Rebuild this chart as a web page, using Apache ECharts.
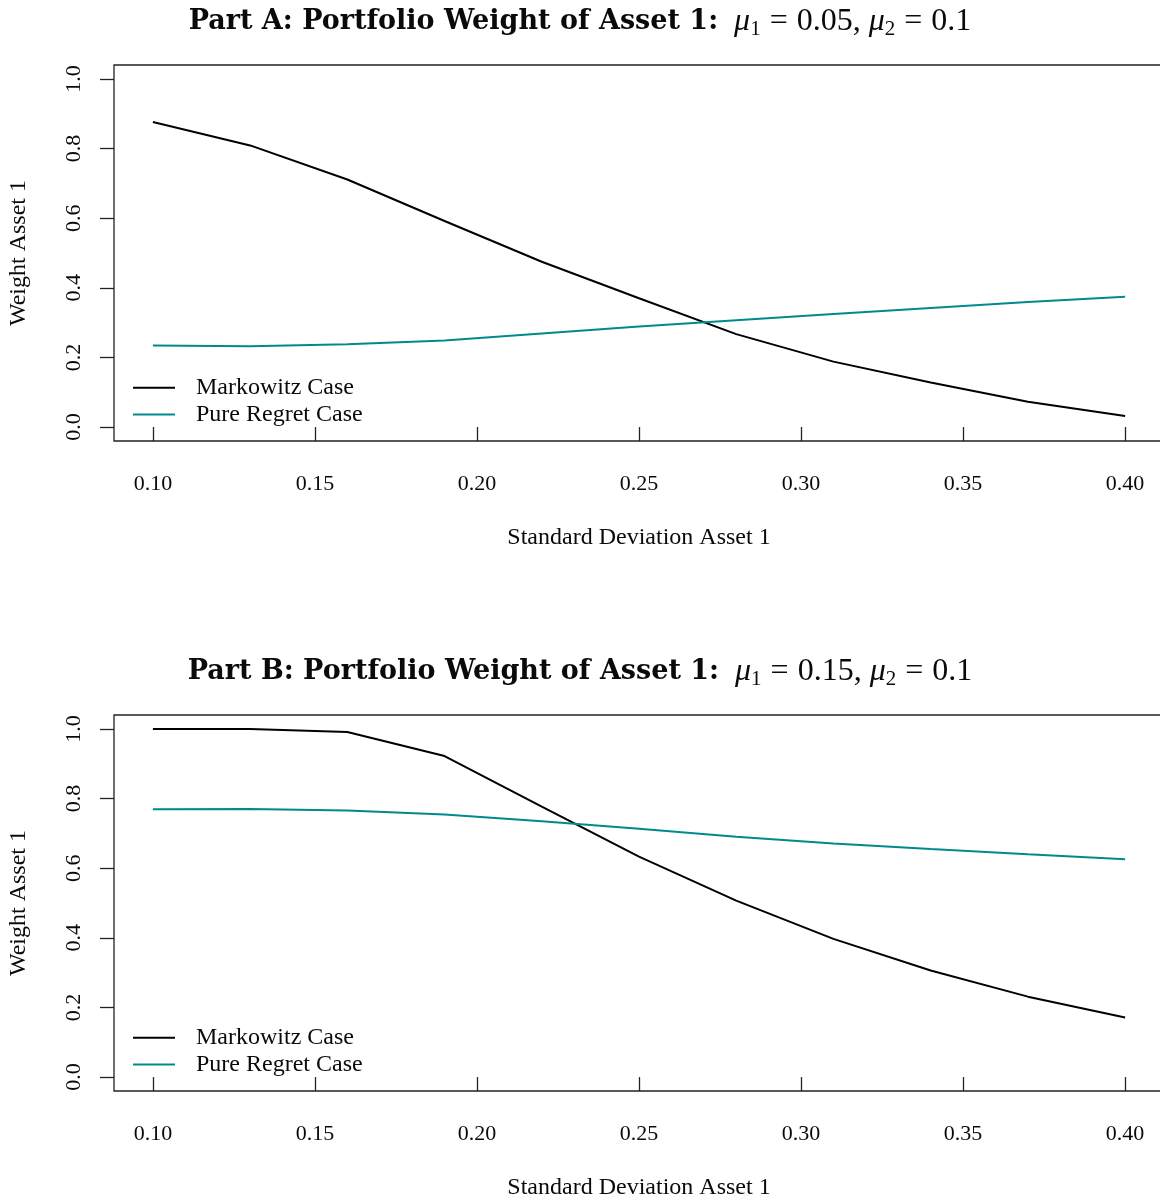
<!DOCTYPE html>
<html>
<head>
<meta charset="utf-8">
<title>Portfolio Weight of Asset 1</title>
<script src="https://cdn.jsdelivr.net/npm/echarts@6/dist/echarts.min.js"></script>
<style>
  html, body { margin: 0; padding: 0; background: #fff; }
  #chart { width: 1160px; height: 1196px; }
</style>
</head>
<body>
<div id="chart"></div>
<script>
// Standard deviation of asset 1 (x values shared by all curves)
const sigma = [0.10, 0.13, 0.16, 0.19, 0.22, 0.25, 0.28, 0.31, 0.34, 0.37, 0.40];

// Part A: mu1 = 0.05, mu2 = 0.1
const markowitzA = [0.876, 0.809, 0.711, 0.592, 0.475, 0.370, 0.267, 0.188, 0.128, 0.073, 0.032];
const regretA    = [0.234, 0.232, 0.238, 0.249, 0.269, 0.289, 0.307, 0.325, 0.342, 0.359, 0.374];

// Part B: mu1 = 0.15, mu2 = 0.1
const markowitzB = [1.000, 1.000, 0.991, 0.922, 0.777, 0.633, 0.507, 0.397, 0.306, 0.231, 0.171];
const regretB    = [0.769, 0.770, 0.766, 0.754, 0.735, 0.713, 0.690, 0.671, 0.655, 0.640, 0.626];

// Tick positions
const xTicks = [0.10, 0.15, 0.20, 0.25, 0.30, 0.35, 0.40];
const yTicks = [0.0, 0.2, 0.4, 0.6, 0.8, 1.0];

const seriesNames = ['Markowitz Case', 'Pure Regret Case'];
const panelTitles = [
  { part: 'Part A: Portfolio Weight of Asset 1:', mu1: '0.05', mu2: '0.1' },
  { part: 'Part B: Portfolio Weight of Asset 1:', mu1: '0.15', mu2: '0.1' }
];

const SERIF = '"Liberation Serif", "DejaVu Serif", serif';
const INK = '#0a0a0a';
const BLACK = '#000000';
const TEAL = '#008b8b';

const panelTop = [65, 715];
const panelHeight = 376;

function pairs(xs, ys) { return xs.map((x, i) => [x, ys[i]]); }

const grids = panelTop.map(top => ({
  left: 114, top: top, width: 1050, height: panelHeight,
  show: true, borderColor: '#222', borderWidth: 1.3,
  backgroundColor: 'transparent',
  containLabel: false, outerBoundsMode: 'none'
}));

const xAxes = panelTop.map((_, i) => ({
  type: 'value', gridIndex: i, min: 0.088, max: 0.412,
  axisLine: { show: false },
  splitLine: { show: false },
  axisTick: { show: true, customValues: xTicks, length: 14, lineStyle: { color: '#222', width: 1.3 } },
  axisLabel: {
    customValues: xTicks, formatter: v => v.toFixed(2),
    margin: 32, fontFamily: SERIF, fontSize: 22, color: INK
  },
  name: 'Standard Deviation Asset 1', nameLocation: 'middle', nameGap: 85,
  nameTextStyle: { fontFamily: SERIF, fontSize: 24, color: INK }
}));

const yAxes = panelTop.map((_, i) => ({
  type: 'value', gridIndex: i, min: -0.04, max: 1.04,
  axisLine: { show: false },
  splitLine: { show: false },
  axisTick: { show: true, customValues: yTicks, length: 14, lineStyle: { color: '#222', width: 1.3 } },
  axisLabel: {
    customValues: yTicks, formatter: v => v.toFixed(1),
    rotate: 90, align: 'center', verticalAlign: 'bottom',
    margin: 29, fontFamily: SERIF, fontSize: 22, color: INK
  },
  name: 'Weight Asset 1', nameLocation: 'middle', nameGap: 83,
  nameTextStyle: { fontFamily: SERIF, fontSize: 24, color: INK }
}));

function lineSeries(name, data, color, idx) {
  return {
    name: name, type: 'line', xAxisIndex: idx, yAxisIndex: idx,
    data: pairs(sigma, data), showSymbol: false, symbol: 'none',
    lineStyle: { color: color, width: 2 }, itemStyle: { color: color },
    silent: true, animation: false
  };
}

const series = [
  lineSeries(seriesNames[0], markowitzA, BLACK, 0),
  lineSeries(seriesNames[1], regretA, TEAL, 0),
  lineSeries(seriesNames[0], markowitzB, BLACK, 1),
  lineSeries(seriesNames[1], regretB, TEAL, 1)
];

// Bold heading followed by the upright/italic parameter expression
const titleRich = {
  b: { fontFamily: '"DejaVu Serif", serif', fontWeight: 'bold', fontSize: 27, color: INK, lineHeight: 36 },
  i: { fontFamily: SERIF, fontWeight: 'normal', fontStyle: 'italic', fontSize: 32, color: INK, lineHeight: 36 },
  m: { fontFamily: SERIF, fontWeight: 'normal', fontSize: 32, color: INK, lineHeight: 36 },
  e: { fontFamily: SERIF, fontWeight: 'normal', fontSize: 32, color: INK, lineHeight: 36, padding: [0, 9, 0, 9] },
  s: { fontFamily: SERIF, fontWeight: 'normal', fontSize: 21, color: INK, lineHeight: 20, verticalAlign: 'bottom' }
};

const titles = panelTitles.map((t, i) => ({
  left: 'center', top: panelTop[i] - 66,
  text: '{b|' + t.part + '}{m|  }{i|μ}{s|1}{e|=}{m|' + t.mu1 + ', }{i|μ}{s|2}{e|=}{m|' + t.mu2 + '}',
  textStyle: { rich: titleRich, color: INK, fontWeight: 'normal' }
}));

const legends = panelTop.map(top => ({
  orient: 'vertical', left: 133, top: top + 309.5,
  padding: 0, itemGap: 0, itemWidth: 42, itemHeight: 2, icon: 'rect',
  selectedMode: false,
  data: seriesNames,
  textStyle: { fontFamily: SERIF, fontSize: 24, color: INK, lineHeight: 26.6, padding: [0, 0, 0, 16] }
}));

const chart = echarts.init(document.getElementById('chart'), null, { renderer: 'canvas' });
chart.setOption({
  backgroundColor: '#ffffff',
  animation: false,
  title: titles,
  legend: legends,
  grid: grids,
  xAxis: xAxes,
  yAxis: yAxes,
  series: series
});
</script>
</body>
</html>
